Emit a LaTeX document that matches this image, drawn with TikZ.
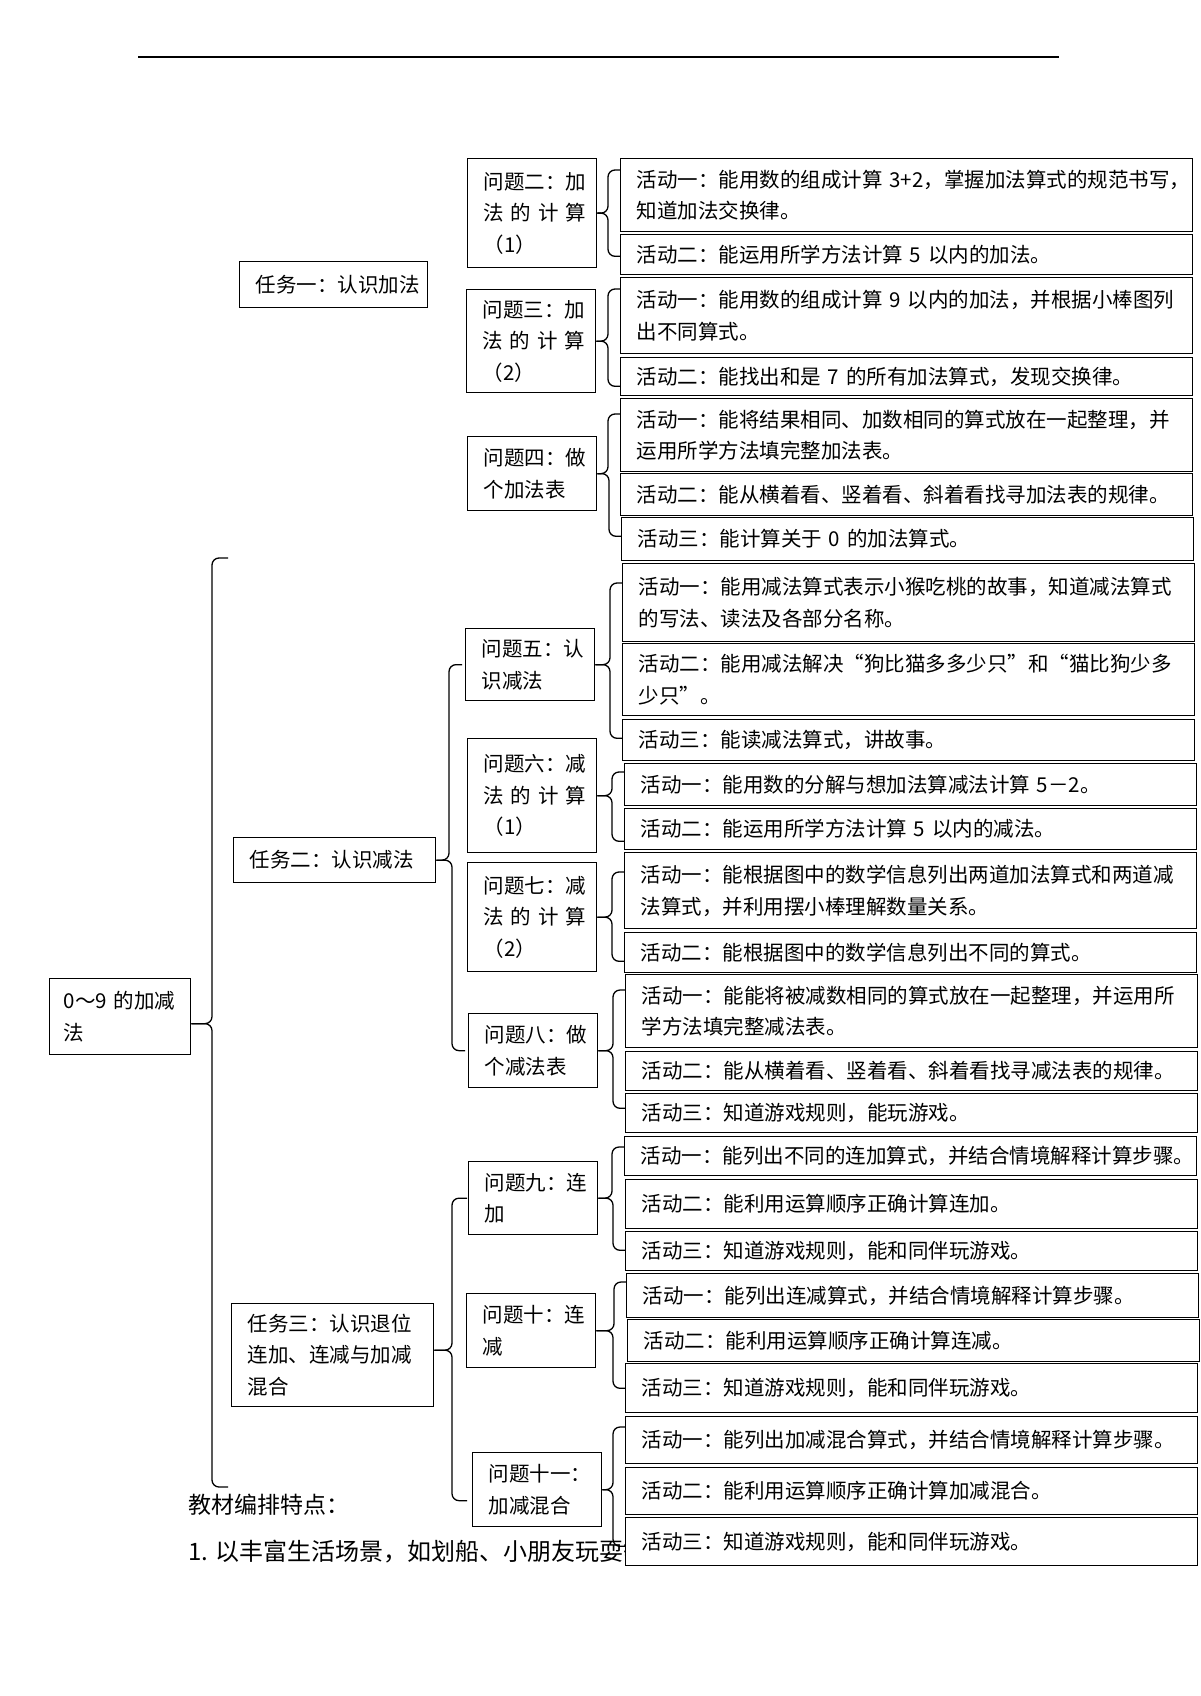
\documentclass[tikz,border=0pt]{standalone}
\usepackage{fontspec}
\setmainfont{Noto Sans CJK SC}
\usepackage{tikz}

\begin{document}
\begin{tikzpicture}[x=1pt,y=-1pt,
        box/.style={draw, line width=1.3pt, fill=white, anchor=north west, align=left,
            inner ysep=0pt, font=\fontsize{20.5}{31.5}\selectfont},
        actbox/.style={box, text width=540pt, inner xsep=16pt, minimum height=#1},
        probbox/.style={box, text width=97pt, inner xsep=16pt, minimum height=#1},
        taskbox/.style={box, inner xsep=16pt, minimum height=#1},
        brc/.style={draw, line width=1.3pt, rounded corners=7pt},
        note/.style={anchor=west, inner sep=0pt, font=\fontsize{23}{26}\selectfont}]
        \useasboundingbox (0,0) rectangle (1200,1696);
        \draw[line width=1.3pt] (138,57) -- (1059,57);
        % text below the chart
        \node[note] (feat) at (188,1505) {教材编排特点：};
        \node[note, font=\fontsize{24}{26}\selectfont] (feat1) at (188,1552) {1. 以丰富生活场景，如划船、小朋友玩耍等};
        % root and tasks
        \node[taskbox=76, text width=113pt, inner xsep=14pt] (root) at (49,978) {0～9~的加减\\法};
        \node[taskbox=46, text width=156pt] (t1) at (239,261) {任务一：认识加法};
        \node[taskbox=45, text width=170pt] (t2) at (233,837) {任务二：认识减法};
        \node[taskbox=103, text width=170pt] (t3) at (231,1303) {任务三：认识退位\\连加、连减与加减\\混合};
        % problems
        \node[probbox=109] (p2) at (467,158) {问题二：加\\\makebox[97pt][s]{法 的 计 算}\\（1）};
        \node[probbox=103] (p3) at (466,289) {问题三：加\\\makebox[97pt][s]{法 的 计 算}\\（2）};
        \node[probbox=74] (p4) at (467,436) {问题四：做\\个加法表};
        \node[probbox=72] (p5) at (465,628) {问题五：认\\识减法};
        \node[probbox=114] (p6) at (467,738) {问题六：减\\\makebox[97pt][s]{法 的 计 算}\\（1）};
        \node[probbox=109] (p7) at (467,862) {问题七：减\\\makebox[97pt][s]{法 的 计 算}\\（2）};
        \node[probbox=74] (p8) at (468,1013) {问题八：做\\个减法表};
        \node[probbox=73] (p9) at (468,1161) {问题九：连\\加};
        \node[probbox=74] (p10) at (466,1293) {问题十：连\\减};
        \node[probbox=74] (p11) at (472,1452) {问题十一：\\加减混合};
        % activities
        \node[actbox=73] (a21) at (620,158) {活动一：能用数的组成计算~3+2，掌握加法算式的规范书写，\\知道加法交换律。};
        \node[actbox=40] (a22) at (620,234) {活动二：能运用所学方法计算~5~以内的加法。};
        \node[actbox=76] (a31) at (620,277) {活动一：能用数的组成计算~9~以内的加法，并根据小棒图列\\出不同算式。};
        \node[actbox=38] (a32) at (620,357) {活动二：能找出和是~7~的所有加法算式，发现交换律。};
        \node[actbox=73] (a41) at (620,398) {活动一：能将结果相同、加数相同的算式放在一起整理，并\\运用所学方法填完整加法表。};
        \node[actbox=42] (a42) at (620,473) {活动二：能从横着看、竖着看、斜着看找寻加法表的规律。};
        \node[actbox=43] (a43) at (621,517) {活动三：能计算关于~0~的加法算式。};
        \node[actbox=78] (a51) at (622,563) {活动一：能用减法算式表示小猴吃桃的故事，知道减法算式\\的写法、读法及各部分名称。};
        \node[actbox=72] (a52) at (622,643) {活动二：能用减法解决“狗比猫多多少只”和“猫比狗少多\\少只”。};
        \node[actbox=41] (a53) at (622,719) {活动三：能读减法算式，讲故事。};
        \node[actbox=42] (a61) at (624,763) {活动一：能用数的分解与想加法算减法计算~5－2。};
        \node[actbox=41] (a62) at (624,808) {活动二：能运用所学方法计算~5~以内的减法。};
        \node[actbox=76] (a71) at (624,852) {活动一：能根据图中的数学信息列出两道加法算式和两道减\\法算式，并利用摆小棒理解数量关系。};
        \node[actbox=40] (a72) at (624,932) {活动二：能根据图中的数学信息列出不同的算式。};
        \node[actbox=73] (a81) at (625,974) {活动一：能能将被减数相同的算式放在一起整理，并运用所\\学方法填完整减法表。};
        \node[actbox=39] (a82) at (625,1051) {活动二：能从横着看、竖着看、斜着看找寻减法表的规律。};
        \node[actbox=39] (a83) at (625,1093) {活动三：知道游戏规则，能玩游戏。};
        \node[actbox=39] (a91) at (624,1136) {活动一：能列出不同的连加算式，并结合情境解释计算步骤。};
        \node[actbox=49] (a92) at (625,1179) {活动二：能利用运算顺序正确计算连加。};
        \node[actbox=39] (a93) at (625,1231) {活动三：知道游戏规则，能和同伴玩游戏。};
        \node[actbox=44] (a101) at (626,1273) {活动一：能列出连减算式，并结合情境解释计算步骤。};
        \node[actbox=42] (a102) at (627,1319) {活动二：能利用运算顺序正确计算连减。};
        \node[actbox=49] (a103) at (625,1363) {活动三：知道游戏规则，能和同伴玩游戏。};
        \node[actbox=47] (a111) at (625,1416) {活动一：能列出加减混合算式，并结合情境解释计算步骤。};
        \node[actbox=47] (a112) at (625,1467) {活动二：能利用运算顺序正确计算加减混合。};
        \node[actbox=48] (a113) at (625,1517) {活动三：知道游戏规则，能和同伴玩游戏。};
        % braces, one half above and one below each tip
        \coordinate (bigtop) at (228,558);
        \coordinate (bigbot) at (228,1487);
        \draw[brc] (bigtop) -- ++(-16,0) |- ([yshift=-7pt]root.east);
        \draw[brc] (bigbot) -- ++(-16,0) |- ([yshift=-7pt]root.east);
        \draw[brc] ([xshift=-3pt]p5.west) -- ++(-13,0) |- (t2.east);
        \draw[brc] ([xshift=-3pt]p8.west) -- ++(-13,0) |- (t2.east);
        \draw[brc] ([xshift=-1pt]p9.west) -- ++(-15,0) |- ([yshift=5pt]t3.east);
        \draw[brc] ([xshift=-5pt,yshift=-11pt]p11.west) -- ++(-15,0) |- ([yshift=5pt]t3.east);
        \draw[brc] ([yshift=-12pt]a21.north west) -- ++(-12,0) |- (p2.east);
        \draw[brc] ([yshift=19pt]a22.south west) -- ++(-12,0) |- (p2.east);
        \draw[brc] ([yshift=-12pt]a31.north west) -- ++(-12,0) |- (p3.east);
        \draw[brc] ([yshift=10pt]a32.south west) -- ++(-12,0) |- (p3.east);
        \draw[brc] ([yshift=-16pt]a41.north west) -- ++(-12,0) |- (p4.east);
        \draw[brc] ([yshift=25pt]a43.south west) -- ++(-12,0) |- (p4.east);
        \draw[brc] ([yshift=-20pt]a51.north west) -- ++(-12,0) |- (p5.east);
        \draw[brc] ([yshift=23pt]a53.south west) -- ++(-12,0) |- (p5.east);
        \draw[brc] ([yshift=-9pt]a61.north west) -- ++(-12,0) |- (p6.east);
        \draw[brc] ([yshift=9pt]a62.south west) -- ++(-12,0) |- (p6.east);
        \draw[brc] ([yshift=-20pt]a71.north west) -- ++(-12,0) |- (p7.east);
        \draw[brc] ([yshift=12pt]a72.south west) -- ++(-12,0) |- (p7.east);
        \draw[brc] ([yshift=-16pt]a81.north west) -- ++(-12,0) |- (p8.east);
        \draw[brc] ([yshift=25pt]a83.south west) -- ++(-12,0) |- (p8.east);
        \draw[brc] ([yshift=-11pt]a91.north west) -- ++(-12,0) |- (p9.east);
        \draw[brc] ([yshift=21pt]a93.south west) -- ++(-12,0) |- (p9.east);
        \draw[brc] ([yshift=-9pt]a101.north west) -- ++(-12,0) |- (p10.east);
        \draw[brc] ([yshift=25pt]a103.south west) -- ++(-12,0) |- (p10.east);
        \draw[brc] ([yshift=-11pt]a111.north west) -- ++(-12,0) |- (p11.east);
        \draw[brc] ([yshift=20pt]a113.south west) -- ++(-12,0) |- (p11.east);
    \end{tikzpicture}
\end{document}
